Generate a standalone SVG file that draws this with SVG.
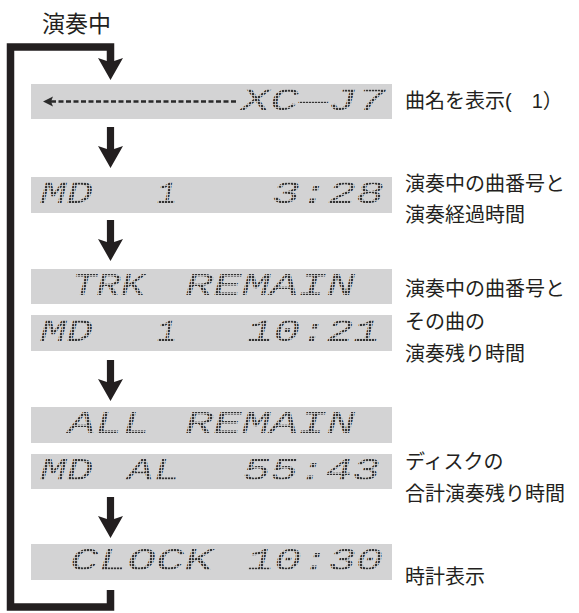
<svg xmlns="http://www.w3.org/2000/svg" width="579" height="613" viewBox="0 0 579 613">
<style>
.bar{fill:#d3d3d4}
.lcd{font-family:"Liberation Mono","DejaVu Sans Mono",monospace;font-style:italic;font-size:31px;fill:url(#dots)}
.jp{font-family:"Liberation Sans","Noto Sans CJK JP",sans-serif;font-size:20px;fill:#231f20}
.conn{fill:none;stroke:#231f20;stroke-width:7.5;stroke-linejoin:miter}
.ah{fill:#231f20}
</style>
<defs>
<pattern id="dots" width="3" height="3" patternUnits="userSpaceOnUse">
<rect width="2.2" height="2.2" fill="#333"/>
</pattern>
<path id="head" d="M-12.5,-22 L0,0 L12.5,-22 L3.6,-19 L-3.6,-19 Z"/>
<path id="arrow" d="M-3.6,-41 V-19 L-12.5,-22 L0,0 L12.5,-22 L3.6,-19 V-41 Z"/>
</defs>

<g id="connectors">
<path class="conn" d="M110.5,62 V47 H10.5 V607 H110.5 V590"/>
<use href="#head" class="ah" transform="translate(110.5,80)"/>
<use href="#arrow" class="ah" transform="translate(110.5,168)"/>
<use href="#arrow" class="ah" transform="translate(110.5,261)"/>
<use href="#arrow" class="ah" transform="translate(110.5,401)"/>
<use href="#arrow" class="ah" transform="translate(110.5,538)"/>
</g>

<g id="title"><text class="jp" x="42" y="32" style="font-size:23px">演奏中</text></g>

<g id="n1">
<rect class="bar" x="31" y="84" width="361" height="35"/>
<line x1="51" y1="101.5" x2="238" y2="101.5" stroke="#2a2a2a" stroke-width="2.5" stroke-dasharray="5 2.5"/>
<polygon points="43,101.5 53,96.5 51,101.5 53,106.5" fill="#2a2a2a"/>
<text class="lcd" x="241" y="110" textLength="145" lengthAdjust="spacingAndGlyphs">XC—J7</text>
<text class="jp" x="405" y="108">曲名を表示(　1）</text>
</g>

<g id="n2">
<rect class="bar" x="31" y="177" width="361" height="36"/>
<text class="lcd" x="40" y="203" textLength="53" lengthAdjust="spacingAndGlyphs">MD</text>
<text class="lcd" x="157" y="203" textLength="20" lengthAdjust="spacingAndGlyphs">1</text>
<text class="lcd" x="272" y="203" textLength="112" lengthAdjust="spacingAndGlyphs">3:28</text>
<text class="jp" x="405" y="191">演奏中の曲番号と</text>
<text class="jp" x="405" y="222">演奏経過時間</text>
</g>

<g id="n3">
<rect class="bar" x="31" y="269" width="361" height="35"/>
<text class="lcd" x="72" y="295" textLength="73" lengthAdjust="spacingAndGlyphs">TRK</text>
<text class="lcd" x="185" y="295" textLength="170" lengthAdjust="spacingAndGlyphs">REMAIN</text>
<text class="jp" x="405" y="296">演奏中の曲番号と</text>
</g>

<g id="n4">
<rect class="bar" x="31" y="315" width="361" height="36"/>
<text class="lcd" x="40" y="341" textLength="53" lengthAdjust="spacingAndGlyphs">MD</text>
<text class="lcd" x="157" y="341" textLength="20" lengthAdjust="spacingAndGlyphs">1</text>
<text class="lcd" x="247" y="341" textLength="133" lengthAdjust="spacingAndGlyphs">10:21</text>
<text class="jp" x="405" y="329">その曲の</text>
<text class="jp" x="405" y="361">演奏残り時間</text>
</g>

<g id="n5">
<rect class="bar" x="31" y="407" width="361" height="36"/>
<text class="lcd" x="68" y="433" textLength="82" lengthAdjust="spacingAndGlyphs">ALL</text>
<text class="lcd" x="185" y="433" textLength="170" lengthAdjust="spacingAndGlyphs">REMAIN</text>
</g>

<g id="n6">
<rect class="bar" x="31" y="454" width="361" height="35"/>
<text class="lcd" x="40" y="480" textLength="53" lengthAdjust="spacingAndGlyphs">MD</text>
<text class="lcd" x="127" y="480" textLength="53" lengthAdjust="spacingAndGlyphs">AL</text>
<text class="lcd" x="243" y="480" textLength="137" lengthAdjust="spacingAndGlyphs">55:43</text>
<text class="jp" x="405" y="469">ディスクの</text>
<text class="jp" x="405" y="501">合計演奏残り時間</text>
</g>

<g id="n7">
<rect class="bar" x="31" y="544" width="361" height="36"/>
<text class="lcd" x="70" y="570" textLength="143" lengthAdjust="spacingAndGlyphs">CLOCK</text>
<text class="lcd" x="247" y="570" textLength="136" lengthAdjust="spacingAndGlyphs">10:30</text>
<text class="jp" x="405" y="584">時計表示</text>
</g>
</svg>
